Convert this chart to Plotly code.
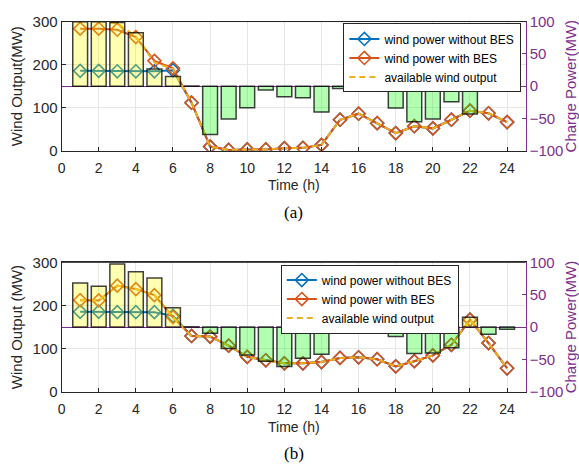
import plotly.graph_objects as go

hours = list(range(1, 25))

# (a)
a_charge = [99.5, 99.5, 98.5, 82.6, 26.4, 15.0, 0.4, -75.0, -50.7, -33.3, -6.0, -16.4,
            -18.0, -40.0, -3.5, 32.0, 0.4, -34.0, -55.0, -51.0, -24.0, -43.0, 0.4, 0.4]
a_with = [283.5, 283.5, 281.0, 264.0, 208.7, 191.5, 111.5, 9.7, 2.0, 3.0, 3.0, 6.0,
          6.7, 13.5, 72.0, 86.0, 64.0, 41.0, 57.0, 52.0, 72.0, 93.0, 87.0, 66.5]
a_without = [185.5, 185.5, 184.5, 184.5, 184.5, 187.0] + a_with[6:]
a_avail = [305.0, 302.0, 296.0, 265.0, 205.0, 190.0] + a_with[6:]

# (b)
b_charge = [68.0, 63.0, 97.5, 85.6, 75.6, 30.0, 0.4, -9.5, -33.0, -43.0, -52.7, -61.0,
            -48.0, -42.0, 0.4, 0.4, 0.4, -14.4, -41.0, -40.0, -32.0, 15.0, -11.0, -3.5]
b_with = [212.4, 211.7, 246.0, 238.0, 224.0, 172.8, 129.4, 128.0, 107.0, 81.0, 73.0, 66.0,
          66.0, 69.0, 78.5, 80.0, 75.5, 59.0, 71.0, 84.5, 109.0, 167.0, 113.0, 54.6]
b_without = [185.5, 185.5, 184.5, 184.5, 184.5, 176.0] + b_with[6:]
b_avail = list(b_with)

x_ticks = list(range(0, 25, 2))

W, H = 579, 476
XL, XR = 58, 525.3
panels = [
    dict(top=13, bot=147, charge=a_charge, wo=a_without, wi=a_with, av=a_avail,
         ytitle="Wind Output(MW)", label="(a)", legend="legend",
         lx=521, ly=15),
    dict(top=262.7, bot=397, charge=b_charge, wo=b_without, wi=b_with, av=b_avail,
         ytitle="Wind Output (MW)", label="(b)", legend="legend2",
         lx=458, ly=265),
]

PURPLE = "#7E2F8E"
BLUE = "#0072BD"
ORANGE = "#D95319"
YELLOW = "#EDB120"
FONT = "Liberation Sans, Arial, sans-serif"

fig = go.Figure()
layout = dict(width=W, height=H, margin=dict(l=0, r=0, t=0, b=0),
              paper_bgcolor="white", plot_bgcolor="white",
              font=dict(family=FONT, size=14, color="#262626"),
              annotations=[], showlegend=True)

for i, p in enumerate(panels):
    xa = "x" if i == 0 else "x2"
    ya = "y" if i == 0 else "y3"
    ya2 = "y2" if i == 0 else "y4"
    xk = "xaxis" if i == 0 else "xaxis2"
    yk = "yaxis" if i == 0 else "yaxis3"
    y2k = "yaxis2" if i == 0 else "yaxis4"
    d0 = (H - p["bot"]) / H
    d1 = (H - p["top"]) / H

    mk = dict(symbol="diamond-open", size=10, line=dict(width=1.6))
    fig.add_trace(go.Scatter(x=hours, y=p["wo"], mode="lines+markers", name="wind power without BES",
                             line=dict(color=BLUE, width=2), marker=dict(color=BLUE, **mk),
                             xaxis=xa, yaxis=ya, legend=p["legend"], cliponaxis=True))
    fig.add_trace(go.Scatter(x=hours, y=p["wi"], mode="lines+markers", name="wind power with BES",
                             line=dict(color=ORANGE, width=2), marker=dict(color=ORANGE, **mk),
                             xaxis=xa, yaxis=ya, legend=p["legend"], cliponaxis=True))
    fig.add_trace(go.Scatter(x=hours, y=p["av"], mode="lines", name="available wind output",
                             line=dict(color=YELLOW, width=2, dash="6px,4px"),
                             xaxis=xa, yaxis=ya, legend=p["legend"], cliponaxis=True))
    cols = ["rgba(255,255,0,0.3)" if v > 0.5 else "rgba(0,255,0,0.3)" for v in p["charge"]]
    fig.add_trace(go.Bar(x=hours, y=p["charge"], width=0.8, marker=dict(color=cols,
                         line=dict(color="rgba(0,0,0,0.75)", width=1.5)),
                         showlegend=False, xaxis=xa, yaxis=ya2))

    layout[xk] = dict(domain=[XL / W, XR / W], range=[0, 25], tickvals=x_ticks,
                      ticks="inside", ticklen=4, tickcolor="#262626",
                      showline=True, linecolor="#262626", linewidth=1, mirror=True,
                      showgrid=True, gridcolor="#E6E6E6", zeroline=False,
                      anchor=ya, tickfont=dict(size=14), ticklabelstandoff=4)
    layout[yk] = dict(domain=[d0, d1], range=[0, 300], tickvals=[0, 100, 200, 300],
                      ticks="inside", ticklen=4, tickcolor="#262626",
                      showline=True, linecolor="#262626", linewidth=1,
                      showgrid=True, gridcolor="#E6E6E6", zeroline=False,
                      anchor=xa, tickfont=dict(size=15),
                      title=dict(text=p["ytitle"], font=dict(size=15), standoff=6))
    layout[y2k] = dict(overlaying=ya, side="right", anchor=xa, range=[-100, 100],
                       tickvals=[-100, -50, 0, 50, 100], ticks="inside", ticklen=4,
                       tickcolor=PURPLE, showline=True, linecolor=PURPLE, linewidth=1,
                       showgrid=False, zeroline=True, zerolinecolor=PURPLE, zerolinewidth=1,
                       tickfont=dict(size=15, color=PURPLE),
                       title=dict(text="Charge Power(MW)", font=dict(size=15, color=PURPLE), standoff=4))
    layout.setdefault("shapes", []).append(dict(type="line", xref="paper", yref="paper",
                                                x0=XL / W, x1=XR / W, y0=d1, y1=d1,
                                                line=dict(color="#262626", width=1)))
    layout[p["legend"]] = dict(x=p["lx"] / W, y=(H - p["ly"]) / H, xanchor="right", yanchor="top",
                               bgcolor="white", bordercolor="#262626", borderwidth=1,
                               font=dict(size=12, color="#000000"), itemwidth=30,
                               tracegroupgap=0)
    layout["annotations"].append(dict(text="Time (h)", xref="paper", yref="paper",
                                      x=(XL + XR) / 2 / W, y=(H - (p["bot"] + 36)) / H,
                                      showarrow=False, yanchor="middle",
                                      font=dict(size=14, color="#262626")))
    layout["annotations"].append(dict(text=p["label"], xref="paper", yref="paper",
                                      x=(XL + XR) / 2 / W, y=(H - (p["bot"] + 64)) / H,
                                      showarrow=False, yanchor="middle",
                                      font=dict(family="Liberation Serif, Times New Roman, serif",
                                                size=17, color="#000000")))

fig.update_layout(**layout)
fig.write_html("out.html")
